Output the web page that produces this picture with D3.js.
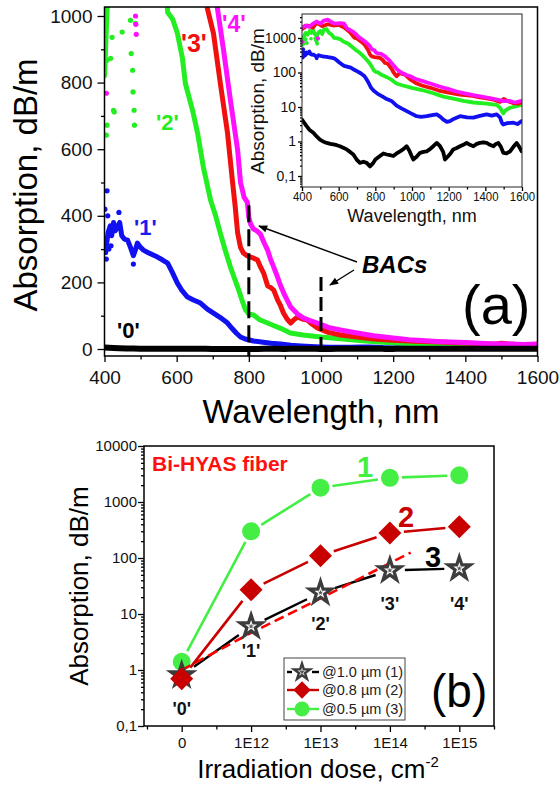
<!DOCTYPE html>
<html>
<head>
<meta charset="utf-8">
<script src="https://cdn.jsdelivr.net/npm/d3@7"></script>
<style>
  body { margin: 0; background: #fff; }
  svg { display: block; }
</style>
</head>
<body>
<svg id="fig" width="560" height="786"></svg>
<script>
// ---- panel (a): absorption spectra [wavelength nm, dB/m] ----
const curve0 = [[400,4.3],[412,3.5],[425,2.8],[440,2.2],[462,1.8],[480,1.4],[498,1.14],[515,1.0],[535,0.91],[555,0.85],[571,0.82],[590,0.78],[607,0.73],[625,0.66],[644,0.59],[662,0.5],[680,0.42],[698,0.3],[716,0.24],[735,0.26],[753,0.24],[771,0.19],[789,0.24],[800,0.3],[825,0.38],[844,0.45],[862,0.42],[880,0.4],[898,0.38],[916,0.45],[935,0.52],[953,0.6],[971,0.73],[985,0.55],[998,0.38],[1007,0.3],[1025,0.36],[1044,0.47],[1062,0.5],[1080,0.52],[1098,0.6],[1116,0.73],[1135,0.91],[1153,0.73],[1170,0.5],[1180,0.3],[1198,0.38],[1210,0.45],[1225,0.59],[1244,0.65],[1262,0.73],[1280,0.8],[1298,0.91],[1316,0.8],[1335,0.73],[1353,0.85],[1371,0.91],[1389,0.95],[1407,0.91],[1425,0.8],[1444,0.73],[1458,0.85],[1471,0.91],[1485,0.7],[1498,0.47],[1516,0.45],[1535,0.52],[1553,0.7],[1571,0.91],[1585,0.7],[1598,0.52]];
const curve1 = [[400,330],[404,300],[410,350],[416,370],[420,340],[425,380],[430,355],[436,366],[442,380],[448,340],[455,330],[464,327],[472,305],[480,280],[485,295],[491,318],[500,305],[508,297],[520,290],[535,282],[547,276],[560,268],[575,258],[588,230],[602,198],[615,175],[630,156],[645,148],[666,138],[685,120],[702,108],[720,95],[741,78],[755,60],[765,48],[777,36],[790,30],[813,24],[840,20],[862,17],[888,15],[916,11],[945,9],[971,7.6],[1000,6.3],[1025,5.4],[1050,5.2],[1080,5.4],[1110,5.8],[1135,6.1],[1155,5.2],[1171,4.3],[1190,3.7],[1207,3.9],[1230,4.6],[1262,5.4],[1300,5.0],[1335,4.9],[1370,5.5],[1407,6.1],[1435,5.6],[1462,6.1],[1480,5.0],[1490,3.5],[1498,3.1],[1520,3.4],[1553,3.5],[1575,3.2],[1598,3.9]];
const curve2 = [[400,820],[410,1100],[420,1400],[430,1250],[442,1600],[452,1400],[460,1700],[470,1300],[480,1150],[490,1450],[500,1600],[510,1300],[520,1750],[535,1800],[548,1400],[562,1260],[575,1011],[589,990],[602,948],[616,873],[624,798],[634,757],[644,717],[658,648],[674,546],[694,447],[708,400],[721,348],[735,295],[749,246],[769,186],[780,150],[791,117],[800,105],[813,102],[830,88],[852,78],[870,70],[888,62],[915,48],[950,42],[1000,36],[1054,31],[1116,25],[1171,20],[1225,17.5],[1280,15],[1335,13.5],[1407,12.5],[1462,11.5],[1480,9.5],[1498,6.5],[1510,8],[1535,9.5],[1570,10.5],[1598,11.5]];
const curve3 = [[400,1800],[430,2300],[460,2000],[480,2800],[510,2200],[540,2500],[570,2300],[600,2400],[630,2000],[660,1500],[685,1023],[702,948],[721,798],[741,648],[755,500],[762,430],[769,348],[777,305],[785,288],[795,280],[805,276],[815,272],[824,267],[833,245],[841,228],[852,190],[860,185],[869,177],[880,147],[888,130],[896,108],[906,90],[916,78],[925,88],[935,96],[948,90],[962,87],[975,75],[990,63],[1020,50],[1054,42],[1100,36],[1146,30],[1200,26],[1260,23],[1331,21],[1370,19],[1400,18],[1450,16],[1480,14],[1500,17],[1520,15],[1550,13],[1580,12.5],[1600,14]];
const curve4 = [[400,2000],[420,2300],[440,2100],[460,2600],[480,3000],[500,2600],[520,3200],[540,3400],[560,2900],[580,2600],[607,2700],[630,2600],[645,1900],[662,1700],[680,1500],[700,1200],[713,1023],[730,897],[749,747],[769,597],[777,500],[787,455],[796,440],[800,395],[805,375],[813,360],[822,355],[832,345],[842,320],[852,297],[860,270],[869,246],[878,220],[888,190],[900,160],[916,126],[935,105],[952,93],[970,85],[990,78],[1020,65],[1054,57],[1100,48],[1146,40],[1200,33],[1244,28],[1300,24],[1335,22],[1380,20],[1425,18],[1470,16],[1500,14.7],[1530,15],[1560,13.5],[1598,15]];
// isolated noisy points
const spikes1 = [[401,420],[403,290],[405,270],[407,475],[409,400],[412,300],[418,310],[440,410],[480,255]];
const spikes2 = [[405,642],[407,672],[407,867],[417,873],[421,936],[425,717],[427,712],[449,952],[472,987],[474,887],[478,837],[479,772],[482,717],[483,672],[486,978]];
const spikes4 = [[405,768],[486,1000],[487,975],[488,945]];

const wlMajor = [400, 600, 800, 1000, 1200, 1400, 1600];
const wlMinor = [500, 700, 900, 1100, 1300, 1500];
const absMajor = [0, 200, 400, 600, 800, 1000];
const absMinor = [100, 300, 500, 700, 900];
const insetMajor = [0.1, 1, 10, 100, 1000];
const bacLines = [800, 1000];

// ---- panel (b): absorption vs dose ----
const doseLabels = ['0', '1E12', '1E13', '1E14', '1E15'];
const abs10 = [0.8, 6, 24, 60, 65];       // @1.0 um
const abs08 = [0.7, 27, 110, 280, 360];   // @0.8 um
const abs05 = [1.4, 300, 1800, 2700, 3000]; // @0.5 um
const fitIdx = [0, 1, 2, 3.3];
const fitVal = [1.0, 4.6, 19, 125];
const doseMajorY = [0.1, 1, 10, 100, 1000, 10000];

const FONT = '"Liberation Sans", Arial, Helvetica, sans-serif';
const svg = d3.select('#fig').attr('font-family', FONT);
const defs = svg.append('defs');

function styleAxis(g, size) {
  g.attr('font-family', FONT).attr('font-size', size);
  g.select('.domain').remove();
  g.selectAll('line').attr('stroke-width', 1.3);
  g.selectAll('text').attr('fill', '#111');
}
function logMinor(lo, hi) {
  const out = [];
  for (let e = Math.floor(Math.log10(lo)); e <= Math.ceil(Math.log10(hi)); e++)
    for (let m = 2; m < 10; m++) { const v = m * 10 ** e; if (v > lo && v < hi) out.push(v); }
  return out;
}
const commaFmt = d => d < 1 ? '0,1' : String(d);
const intFmt = d3.format('d');

// =================== panel (a) ===================
const x = d3.scaleLinear().domain([400, 1600]).range([104.5, 537.5]);
const y = d3.scaleLinear().domain([-21, 1027]).range([356, 7]);

defs.append('clipPath').attr('id', 'clipA').append('rect')
  .attr('x', x.range()[0]).attr('y', y.range()[1])
  .attr('width', x.range()[1] - x.range()[0]).attr('height', y.range()[0] - y.range()[1]);

svg.append('g').attr('transform', 'translate(0,356)')
  .call(d3.axisBottom(x).tickValues(wlMajor).tickSize(6).tickPadding(9).tickFormat(intFmt))
  .call(styleAxis, 19);
svg.append('g').attr('transform', 'translate(0,356)')
  .call(d3.axisBottom(x).tickValues(wlMinor).tickSize(3.5).tickFormat(''))
  .call(styleAxis, 19);
svg.append('g').attr('transform', 'translate(104.5,0)')
  .call(d3.axisLeft(y).tickValues(absMajor).tickSize(7).tickPadding(5).tickFormat(intFmt))
  .call(styleAxis, 19);
svg.append('g').attr('transform', 'translate(104.5,0)')
  .call(d3.axisLeft(y).tickValues(absMinor).tickSize(3.5).tickFormat(''))
  .call(styleAxis, 19);

const seriesA = [
  { data: curve1, spikes: spikes1, color: '#1010f0' },
  { data: curve2, spikes: spikes2, color: '#22ee22' },
  { data: curve3, spikes: [], color: '#f01010' },
  { data: curve4, spikes: spikes4, color: '#ff10ff' },
  { data: curve0, spikes: [], color: '#000000', w: 6 }
];
const lineA = d3.line().x(d => x(d[0])).y(d => y(d[1]));
const plotA = svg.append('g').attr('clip-path', 'url(#clipA)');
seriesA.forEach(s => {
  plotA.append('path').attr('d', lineA(s.data)).attr('fill', 'none')
    .attr('stroke', s.color).attr('stroke-width', s.w || 5)
    .attr('stroke-linejoin', 'round').attr('stroke-linecap', 'round');
  plotA.selectAll(null).data(s.spikes).join('circle')
    .attr('cx', d => x(d[0])).attr('cy', d => y(d[1])).attr('r', 2.6).attr('fill', s.color);
});

// BAC dashed markers
const bacTop = [432, 216];
svg.selectAll(null).data(bacLines).join('line')
  .attr('x1', d => x(d)).attr('x2', d => x(d))
  .attr('y1', (d, i) => y(bacTop[i])).attr('y2', y(-21))
  .attr('stroke', '#000').attr('stroke-width', 3)
  .attr('stroke-dasharray', (d, i) => i === 0 ? '17,7' : '14,6');

svg.append('rect').attr('x', 104.5).attr('y', 7).attr('width', 433).attr('height', 349)
  .attr('fill', 'none').attr('stroke', '#000').attr('stroke-width', 1.5);

defs.append('marker').attr('id', 'arr').attr('viewBox', '0 0 10 10')
  .attr('refX', 9).attr('refY', 5).attr('markerUnits', 'userSpaceOnUse')
  .attr('markerWidth', 11).attr('markerHeight', 9).attr('orient', 'auto')
  .append('path').attr('d', 'M0,1 L10,5 L0,9 Z').attr('fill', '#000');
[[357, 262, 259, 226], [354, 270, 330, 285]].forEach(a => {
  svg.append('line').attr('x1', a[0]).attr('y1', a[1]).attr('x2', a[2]).attr('y2', a[3])
    .attr('stroke', '#000').attr('stroke-width', 1.4).attr('marker-end', 'url(#arr)');
});
svg.append('text').attr('x', 362).attr('y', 273).attr('font-size', 24)
  .attr('font-weight', 'bold').attr('font-style', 'italic').text('BACs');
svg.append('text').attr('x', 462).attr('y', 324).attr('font-size', 56).text('(a)');

const curveLabels = [
  { t: "'0'", x: 117, y: 338, c: '#000', s: 22 },
  { t: "'1'", x: 134, y: 235, c: '#1a1aee', s: 22 },
  { t: "'2'", x: 156, y: 130, c: '#22ee22', s: 22 },
  { t: "'3'", x: 181, y: 52, c: '#f01010', s: 25 },
  { t: "'4'", x: 222, y: 32, c: '#ff10ff', s: 23 }
];
svg.selectAll(null).data(curveLabels).join('text')
  .attr('x', d => d.x).attr('y', d => d.y).attr('font-size', d => d.s)
  .attr('font-weight', 'bold').attr('fill', d => d.c).text(d => d.t);

svg.append('text').attr('transform', 'translate(37,185) rotate(-90)')
  .attr('text-anchor', 'middle').attr('font-size', 33).text('Absorption, dB/m');
svg.append('text').attr('x', 321).attr('y', 423)
  .attr('text-anchor', 'middle').attr('font-size', 33).text('Wavelength, nm');

// ---- inset ----
const xi = d3.scaleLinear().domain([400, 1600]).range([302, 522]);
const yi = d3.scaleLog().domain([0.048, 4960]).range([187, 14]);
svg.append('rect').attr('x', 302).attr('y', 14).attr('width', 220).attr('height', 173).attr('fill', '#fff');
defs.append('clipPath').attr('id', 'clipI').append('rect')
  .attr('x', 302).attr('y', 14).attr('width', 220).attr('height', 173);

const lineI = d3.line().x(d => xi(d[0])).y(d => yi(d[1]));
const plotI = svg.append('g').attr('clip-path', 'url(#clipI)');
[seriesA[4], seriesA[0], seriesA[1], seriesA[2], seriesA[3]].forEach(s => {
  plotI.append('path').attr('d', lineI(s.data)).attr('fill', 'none')
    .attr('stroke', s.color).attr('stroke-width', 3.8)
    .attr('stroke-linejoin', 'round').attr('stroke-linecap', 'round');
  plotI.selectAll(null).data(s.spikes).join('circle')
    .attr('cx', d => xi(d[0])).attr('cy', d => yi(d[1])).attr('r', 1.8).attr('fill', s.color);
});

svg.append('g').attr('transform', 'translate(0,187)')
  .call(d3.axisBottom(xi).tickValues(wlMajor).tickSize(4).tickPadding(1.5).tickFormat(intFmt))
  .call(styleAxis, 12)
  .call(g => g.selectAll('text').attr('transform', 'scale(0.95,1)'));
svg.append('g').attr('transform', 'translate(0,187)')
  .call(d3.axisBottom(xi).tickValues(wlMinor).tickSize(2.5).tickFormat(''))
  .call(styleAxis, 12);
svg.append('g').attr('transform', 'translate(302,0)')
  .call(d3.axisLeft(yi).tickValues(insetMajor).tickSize(4).tickPadding(2).tickFormat(commaFmt))
  .call(styleAxis, 14);
svg.append('g').attr('transform', 'translate(302,0)')
  .call(d3.axisLeft(yi).tickValues(logMinor(0.048, 4960)).tickSize(2).tickFormat(''))
  .call(styleAxis, 14);
svg.append('rect').attr('x', 302).attr('y', 14).attr('width', 220).attr('height', 173)
  .attr('fill', 'none').attr('stroke', '#222').attr('stroke-width', 1);
svg.append('text').attr('transform', 'translate(264,101) rotate(-90)')
  .attr('text-anchor', 'middle').attr('font-size', 19).attr('fill', '#111').text('Absorption, dB/m');
svg.append('text').attr('x', 412).attr('y', 222)
  .attr('text-anchor', 'middle').attr('font-size', 18).attr('fill', '#111').text('Wavelength, nm');

// =================== panel (b) ===================
const xb = d3.scaleLinear().domain([-0.543, 4.5]).range([144, 494]);
const yb = d3.scaleLog().domain([0.1, 10000]).range([726, 446]);
const idx = d3.range(doseLabels.length);

svg.append('g').attr('transform', 'translate(0,726)')
  .call(d3.axisBottom(xb).tickValues(idx).tickSize(6).tickPadding(5).tickFormat(i => doseLabels[i]))
  .call(styleAxis, 15);
svg.append('g').attr('transform', 'translate(0,726)')
  .call(d3.axisBottom(xb).tickValues([-0.5, 0.5, 1.5, 2.5, 3.5, 4.5]).tickSize(3.5).tickFormat(''))
  .call(styleAxis, 15);
svg.append('g').attr('transform', 'translate(144,0)')
  .call(d3.axisLeft(yb).tickValues(doseMajorY).tickSize(6).tickPadding(1).tickFormat(commaFmt))
  .call(styleAxis, 15);
svg.append('g').attr('transform', 'translate(144,0)')
  .call(d3.axisLeft(yb).tickValues(logMinor(0.1, 10000)).tickSize(3).tickFormat(''))
  .call(styleAxis, 15);

// lines that stop short of the markers
function gapped(g, vals, gap, color, width) {
  const pts = vals.map((v, i) => [xb(i), yb(v)]);
  for (let i = 0; i < pts.length - 1; i++) {
    const [x1, y1] = pts[i], [x2, y2] = pts[i + 1];
    const L = Math.hypot(x2 - x1, y2 - y1);
    if (L <= 2 * gap) continue;
    const ux = (x2 - x1) / L, uy = (y2 - y1) / L;
    g.append('line').attr('x1', x1 + ux * gap).attr('y1', y1 + uy * gap)
      .attr('x2', x2 - ux * gap).attr('y2', y2 - uy * gap)
      .attr('stroke', color).attr('stroke-width', width);
  }
}
const gB = svg.append('g');
const GREEN = '#44ee44', DRED = '#c80000';
gapped(gB, abs05, 12, GREEN, 2.6);
gB.selectAll(null).data(abs05).join('circle')
  .attr('cx', (d, i) => xb(i)).attr('cy', d => yb(d)).attr('r', 9).attr('fill', GREEN);
gapped(gB, abs10, 15, '#000', 2.4);
const fitLine = d3.line().x((d, i) => xb(fitIdx[i])).y(d => yb(d));
gB.append('path').attr('d', fitLine(fitVal)).attr('fill', 'none')
  .attr('stroke', '#ff0000').attr('stroke-width', 2.6).attr('stroke-dasharray', '10,5');
const starPath = d3.symbol(d3.symbolStar, 150)();
const starDot = d3.symbol(d3.symbolStar, 10)();
abs10.forEach((v, i) => {
  const s = gB.append('g').attr('transform', `translate(${xb(i)},${yb(v)})`);
  s.append('path').attr('d', starPath).attr('fill', '#fff').attr('stroke', '#3c3c3c')
    .attr('stroke-width', 3.2).attr('stroke-linejoin', 'miter');
  s.append('path').attr('d', starDot).attr('fill', '#555');
});
gapped(gB, abs08, 14, DRED, 2.6);
const diamond = d3.symbol(d3.symbolSquare, 265)();
gB.selectAll(null).data(abs08).join('path')
  .attr('d', diamond).attr('fill', DRED)
  .attr('transform', (d, i) => `translate(${xb(i)},${yb(d)}) rotate(45)`);

svg.append('rect').attr('x', 144).attr('y', 446).attr('width', 350).attr('height', 280)
  .attr('fill', 'none').attr('stroke', '#000').attr('stroke-width', 1.5);

svg.append('text').attr('x', 152).attr('y', 471).attr('font-size', 21)
  .attr('font-weight', 'bold').attr('fill', '#ff1010').text('Bi-HYAS fiber');
[['1', 365, 477, GREEN], ['2', 406, 527, DRED], ['3', 433, 567, '#000']].forEach(t => {
  svg.append('text').attr('x', t[1]).attr('y', t[2]).attr('text-anchor', 'middle')
    .attr('font-size', 29).attr('font-weight', 'bold').attr('fill', t[3]).text(t[0]);
});
const doseTagY = [715, 657, 630, 610, 610];
svg.selectAll(null).data(idx).join('text')
  .attr('x', i => xb(i)).attr('y', i => doseTagY[i]).attr('text-anchor', 'middle')
  .attr('font-size', 18).attr('font-weight', 'bold').attr('fill', '#111')
  .text(i => `'${i}'`);
svg.append('text').attr('x', 431).attr('y', 707).attr('font-size', 46).text('(b)');

// legend
const leg = svg.append('g');
leg.append('rect').attr('x', 284).attr('y', 658).attr('width', 121).attr('height', 62)
  .attr('fill', '#fff').attr('stroke', '#444').attr('stroke-width', 1);
const legRows = [
  { t: '@1.0 \u00b5m (1)', y: 672, c: '#000', m: 'star' },
  { t: '@0.8 \u00b5m (2)', y: 690, c: DRED, m: 'diamond' },
  { t: '@0.5 \u00b5m (3)', y: 709, c: GREEN, m: 'circle' }
];
legRows.forEach(r => {
  leg.append('line').attr('x1', 287).attr('x2', 319).attr('y1', r.y).attr('y2', r.y)
    .attr('stroke', r.c).attr('stroke-width', 2.4);
  const m = leg.append('g').attr('transform', `translate(302,${r.y})`);
  if (r.m === 'star') {
    m.append('rect').attr('x', -10).attr('y', -3).attr('width', 20).attr('height', 6).attr('fill', '#fff');
    m.append('path').attr('d', d3.symbol(d3.symbolStar, 80)()).attr('fill', '#fff')
      .attr('stroke', '#3c3c3c').attr('stroke-width', 2.4);
    m.append('path').attr('d', starDot).attr('fill', '#555');
  } else if (r.m === 'diamond') {
    m.append('path').attr('d', d3.symbol(d3.symbolSquare, 150)()).attr('fill', DRED)
      .attr('transform', 'rotate(45)');
  } else {
    m.append('circle').attr('r', 7.5).attr('fill', GREEN);
  }
  leg.append('text').attr('x', 322).attr('y', r.y + 5).attr('font-size', 14.5)
    .attr('fill', '#222').text(r.t);
});

svg.append('text').attr('transform', 'translate(88,586) rotate(-90)')
  .attr('text-anchor', 'middle').attr('font-size', 26).text('Absorption, dB/m');
const xt = svg.append('text').attr('x', 318).attr('y', 778)
  .attr('text-anchor', 'middle').attr('font-size', 26);
xt.append('tspan').text('Irradiation dose, cm');
xt.append('tspan').attr('dy', -11).attr('font-size', 15).text('-2');
</script>
</body>
</html>
